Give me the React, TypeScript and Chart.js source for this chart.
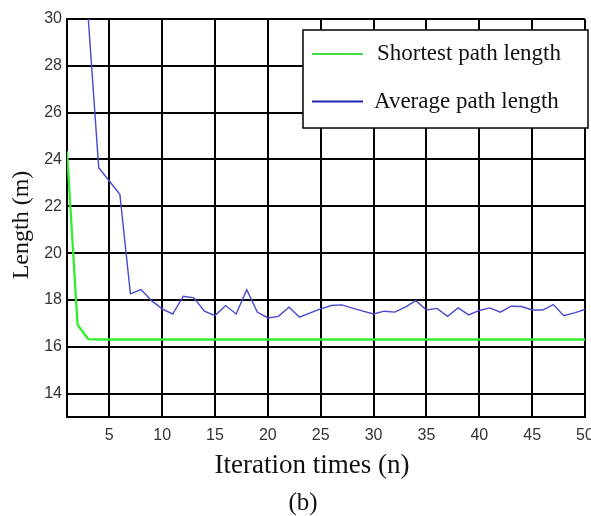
import React, { useEffect, useRef } from 'react';
import { Chart, registerables } from 'chart.js';

Chart.register(...registerables);

const iterations = [1, 2, 3, 4, 5, 6, 7, 8, 9, 10, 11, 12, 13, 14, 15, 16, 17, 18, 19, 20, 21, 22, 23, 24, 25, 26, 27, 28, 29, 30, 31, 32, 33, 34, 35, 36, 37, 38, 39, 40, 41, 42, 43, 44, 45, 46, 47, 48, 49, 50];

const shortestPath = [24.35, 16.94, 16.33, 16.31, 16.31, 16.31, 16.31, 16.31, 16.31, 16.31, 16.31, 16.31, 16.31, 16.31, 16.31, 16.31, 16.31, 16.31, 16.31, 16.31, 16.31, 16.31, 16.31, 16.31, 16.31, 16.31, 16.31, 16.31, 16.31, 16.31, 16.31, 16.31, 16.31, 16.31, 16.31, 16.31, 16.31, 16.31, 16.31, 16.31, 16.31, 16.31, 16.31, 16.31, 16.31, 16.31, 16.31, 16.31, 16.31, 16.31];

const averagePath = [38, 34, 30.1, 23.65, 23.08, 22.51, 18.26, 18.44, 17.97, 17.62, 17.4, 18.16, 18.09, 17.52, 17.33, 17.76, 17.4, 18.44, 17.48, 17.23, 17.3, 17.69, 17.26, 17.45, 17.62, 17.76, 17.79, 17.65, 17.52, 17.4, 17.52, 17.48, 17.69, 17.97, 17.57, 17.64, 17.3, 17.66, 17.36, 17.55, 17.66, 17.48, 17.73, 17.72, 17.57, 17.57, 17.8, 17.33, 17.45, 17.59];

const xTicks = [5, 10, 15, 20, 25, 30, 35, 40, 45, 50];
const yTicks = [14, 16, 18, 20, 22, 24, 26, 28, 30];

const seriesLabels = ['Shortest path length', 'Average path length'];
const xTitle = 'Iteration times (n)';
const yTitle = 'Length (m)';
const caption = '(b)';

const SERIF = '"Liberation Serif", "Times New Roman", serif';
const SANS = '"Liberation Sans", Arial, sans-serif';

const textPlugin = {
  id: 'customTexts',
  afterDraw(chart: any) {
    const { ctx, chartArea } = chart;
    ctx.save();
    // legend box
    const bx = chartArea.right - 282;
    const by = chartArea.top + 11;
    const bw = 285;
    const bh = 98;
    ctx.fillStyle = '#ffffff';
    ctx.fillRect(bx, by, bw, bh);
    ctx.strokeStyle = '#000';
    ctx.lineWidth = 1.5;
    ctx.strokeRect(bx, by, bw, bh);
    const legendColors = ['#44dd44', '#2222b0'];
    chart.data.datasets.forEach((ds: any, i: number) => {
      const ly = by + 24 + i * 47.5;
      ctx.strokeStyle = legendColors[i];
      ctx.lineWidth = 2;
      ctx.beginPath();
      ctx.moveTo(bx + 9, ly);
      ctx.lineTo(bx + 60, ly);
      ctx.stroke();
      ctx.fillStyle = '#111';
      ctx.font = `23px ${SERIF}`;
      ctx.textAlign = 'left';
      ctx.textBaseline = 'alphabetic';
      ctx.fillText(ds.label, bx + (i === 0 ? 74 : 71), ly + 6);
    });

    // x title
    ctx.fillStyle = '#111';
    ctx.font = `27px ${SERIF}`;
    ctx.textAlign = 'center';
    ctx.textBaseline = 'alphabetic';
    ctx.fillText(xTitle, 312, chartArea.bottom + 56);

    // caption
    ctx.font = `25px ${SERIF}`;
    ctx.fillText(caption, 303, chartArea.bottom + 93);

    // y title
    ctx.save();
    ctx.translate(28, 225);
    ctx.rotate(-Math.PI / 2);
    ctx.font = `24px ${SERIF}`;
    ctx.textAlign = 'center';
    ctx.textBaseline = 'alphabetic';
    ctx.fillText(yTitle, 0, 0);
    ctx.restore();

    ctx.restore();
  },
};

export default function App() {
  const canvasRef = useRef<HTMLCanvasElement>(null);

  useEffect(() => {
    const canvas = canvasRef.current;
    if (!canvas) return;
    const chart = new Chart(canvas, {
      type: 'line',
      data: {
        datasets: [
          {
            label: seriesLabels[0],
            data: iterations.map((x, i) => ({ x, y: shortestPath[i] })),
            borderColor: '#30ee30',
            borderWidth: 2.3,
            pointRadius: 0,
            tension: 0,
            fill: false,
          },
          {
            label: seriesLabels[1],
            data: iterations.map((x, i) => ({ x, y: averagePath[i] })),
            borderColor: '#4848d0',
            borderWidth: 1.4,
            pointRadius: 0,
            tension: 0,
            fill: false,
          },
        ],
      },
      options: {
        responsive: false,
        animation: false,
        events: [],
        layout: { padding: { top: 19, right: 6, left: 0, bottom: 0 } },
        plugins: {
          legend: { display: false },
          tooltip: { enabled: false },
          title: { display: false },
        },
        scales: {
          x: {
            type: 'linear',
            min: 1,
            max: 50,
            afterBuildTicks: (s: any) => {
              s.ticks = xTicks.map((v) => ({ value: v }));
            },
            afterFit: (s: any) => {
              s.height = 99;
              s.paddingLeft = 0;
              s.paddingRight = 0;
            },
            grid: { color: '#000', lineWidth: 2, drawTicks: false },
            border: { display: true, color: '#000', width: 2 },
            ticks: {
              padding: 9,
              color: '#333',
              font: { family: SANS, size: 16 },
              maxRotation: 0,
              autoSkip: false,
            },
          },
          y: {
            type: 'linear',
            min: 13,
            max: 30,
            afterBuildTicks: (s: any) => {
              s.ticks = yTicks.map((v) => ({ value: v }));
            },
            afterFit: (s: any) => {
              s.width = 67;
              s.paddingTop = 0;
              s.paddingBottom = 0;
            },
            grid: { color: '#000', lineWidth: 2, drawTicks: false },
            border: { display: true, color: '#000', width: 2 },
            ticks: {
              padding: 5,
              color: '#333',
              font: { family: SANS, size: 16 },
              autoSkip: false,
            },
          },
        },
      },
      plugins: [textPlugin],
    });
    return () => chart.destroy();
  }, []);

  return (
    <div style={{ position: 'absolute', left: 0, top: 0, width: 591, height: 516, background: '#fff' }}>
      <canvas ref={canvasRef} width={591} height={516} style={{ display: 'block' }} />
    </div>
  );
}
